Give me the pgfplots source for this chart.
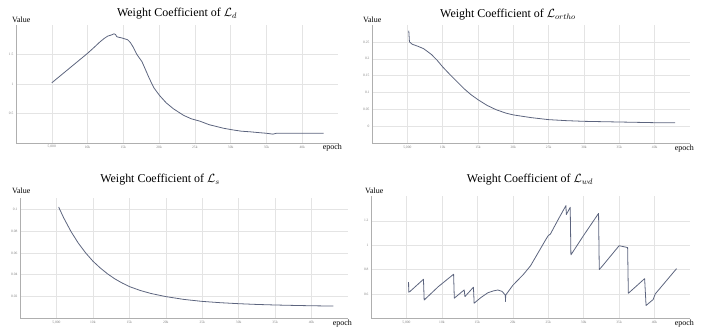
\documentclass[border=0pt]{standalone}
\usepackage{pgfplots}
\pgfplotsset{compat=1.18}
\usepackage{fontspec}
\setmainfont{Liberation Serif}
\definecolor{curve}{RGB}{92,100,126}
\definecolor{axisgray}{RGB}{175,175,175}
\definecolor{gridgray}{RGB}{228,228,228}
\pgfplotsset{
  panel/.style={
    scale only axis, anchor=south west,
    axis x line*=bottom, axis y line*=left,
    axis line style={draw=axisgray, line width=0.5pt, -},
    grid=major, major grid style={draw=gridgray, line width=0.4pt},
    xmin=0, xmax=45000,
    xtick={5000,10000,15000,20000,25000,30000,35000,40000},
    xticklabels={{5,000},10k,15k,20k,25k,30k,35k,40k},
    major tick length=0pt,
    tick label style={font=\fontsize{3.6}{4}\selectfont, text=gray},
    xticklabel style={yshift=1pt},
    yticklabel style={xshift=1pt},
    /pgf/number format/assume math mode=true,
    /pgf/number format/fixed,
    scaled ticks=false,
    clip=false,
  },
  curve/.style={color=curve, line width=0.8pt, line join=round, mark=none},
}
\begin{document}
\begin{tikzpicture}[x=1bp,y=1bp]
\useasboundingbox (0,0) rectangle (714,331);

% Panel 1: L_d
\begin{axis}[panel, at={(16bp,188bp)}, width=322bp, height=118bp,
  ymin=0, ymax=2, ytick={0.5,1,1.5}]
\addplot[curve] coordinates {
(5000,1.02) (6000,1.12) (7000,1.22) (8000,1.32) (9000,1.42) (10000,1.52)
(11000,1.63) (11700,1.71) (12300,1.77) (12800,1.81) (13300,1.83) (13700,1.85)
(13900,1.84) (14100,1.80) (14800,1.78) (15600,1.75) (16000,1.70) (16400,1.62)
(16900,1.50) (17300,1.43) (17600,1.38) (18000,1.27) (18500,1.13) (19000,1.00)
(19300,0.93) (20100,0.80) (21000,0.68) (22000,0.58) (23400,0.47) (24500,0.41)
(25700,0.37) (27000,0.31) (28000,0.28) (29000,0.25) (30400,0.22) (31500,0.20)
(32700,0.19) (34000,0.175) (35000,0.165) (35900,0.15) (36400,0.165) (40000,0.165)
(43000,0.165)};
\node[anchor=base west, font=\fontsize{8}{9}\selectfont, inner sep=0pt] at ([xshift=-4bp,yshift=2bp]rel axis cs:0,1) {Value};
\node[anchor=north east, font=\fontsize{8}{9}\selectfont, inner sep=0pt] at ([xshift=4bp,yshift=-1bp]rel axis cs:1,0) {epoch};
\end{axis}

% Panel 2: L_ortho
\begin{axis}[panel, at={(372bp,187.7bp)}, width=318bp, height=118.3bp,
  ymin=-0.05, ymax=0.3, ytick={0,0.05,0.1,0.15,0.2,0.25}]
\addplot[curve] coordinates {
(5200,0.283) (5300,0.25) (5700,0.243) (6500,0.237) (7300,0.23) (8400,0.213)
(9200,0.196) (10000,0.176) (11000,0.154) (12000,0.133) (13000,0.112) (14000,0.094)
(15000,0.079) (16300,0.062) (17600,0.049) (19000,0.039) (20000,0.034) (22500,0.026)
(25000,0.020) (27500,0.017) (30000,0.015) (35000,0.013) (40000,0.011) (42900,0.011)};
\node[anchor=base west, font=\fontsize{8}{9}\selectfont, inner sep=0pt] at ([xshift=-9bp,yshift=2bp]rel axis cs:0,1) {Value};
\node[anchor=north east, font=\fontsize{8}{9}\selectfont, inner sep=0pt] at ([xshift=4bp,yshift=-1bp]rel axis cs:1,0) {epoch};
\end{axis}

% Panel 3: L_s
\begin{axis}[panel, at={(20bp,12.7bp)}, width=328bp, height=120bp,
  ymin=0, ymax=0.11, ytick={0.02,0.04,0.06,0.08,0.1}]
\addplot[curve] coordinates {
(5300,0.102) (6000,0.0920) (7000,0.0795) (8000,0.0689) (9000,0.0600)
(10000,0.0524) (11000,0.0462) (12000,0.0408) (13000,0.0362) (14000,0.0324)
(15000,0.0291) (16500,0.0255) (18000,0.0227) (20000,0.0199) (22500,0.0173)
(25000,0.0155) (27500,0.0143) (30000,0.0134) (32500,0.0127) (35000,0.0122)
(38000,0.01175) (40000,0.0115) (43000,0.0112)};
\node[anchor=base west, font=\fontsize{8}{9}\selectfont, inner sep=0pt] at ([xshift=-8bp,yshift=5bp]rel axis cs:0,1) {Value};
\node[anchor=north east, font=\fontsize{8}{9}\selectfont, inner sep=0pt] at ([xshift=4bp,yshift=-1bp]rel axis cs:1,0) {epoch};
\end{axis}

% Panel 4: L_wd
\begin{axis}[panel, at={(371bp,12.7bp)}, width=319bp, height=122bp,
  ymin=0.4, ymax=1.4, ytick={0.6,0.8,1,1.2}]
\addplot[curve] coordinates {
(5300,0.696) (5320,0.614) (5500,0.62) (7400,0.72) (7500,0.55) (9500,0.66)
(11650,0.761) (11750,0.565) (13150,0.633) (13250,0.578) (14450,0.655) (14550,0.524)
(15500,0.57) (16500,0.61) (17300,0.625) (17900,0.632) (18500,0.62) (18950,0.59)
(18970,0.537) (19000,0.59) (20000,0.67) (21500,0.76) (22500,0.83) (23500,0.93)
(24600,1.04) (25000,1.078) (25300,1.09) (26500,1.22) (27500,1.324) (27550,1.25)
(28100,1.31) (28200,0.92) (30000,1.08) (32100,1.26) (32200,0.80) (32600,0.826)
(35000,0.995) (36200,0.98) (36300,0.605) (38600,0.725) (38800,0.505) (39800,0.554)
(40100,0.60) (43100,0.807)};
\node[anchor=base west, font=\fontsize{8}{9}\selectfont, inner sep=0pt] at ([xshift=-6bp,yshift=3bp]rel axis cs:0,1) {Value};
\node[anchor=north east, font=\fontsize{8}{9}\selectfont, inner sep=0pt] at ([xshift=4bp,yshift=-1bp]rel axis cs:1,0) {epoch};
\end{axis}

% Titles
\node[font=\fontsize{12}{14}\selectfont] at (177,317) {Weight Coefficient of $\mathcal{L}_{d}$};
\node[font=\fontsize{12}{14}\selectfont] at (508,316) {Weight Coefficient of $\mathcal{L}_{ortho}$};
\node[font=\fontsize{12}{14}\selectfont] at (160,151) {Weight Coefficient of $\mathcal{L}_{s}$};
\node[font=\fontsize{12}{14}\selectfont] at (530,151) {Weight Coefficient of $\mathcal{L}_{wd}$};
\end{tikzpicture}
\end{document}
